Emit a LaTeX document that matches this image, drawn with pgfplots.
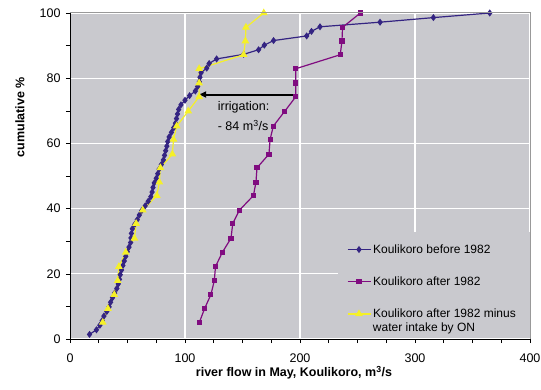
\documentclass[border=0pt]{standalone}
\usepackage{fontspec}
\setmainfont{Liberation Sans}
\usepackage{pgfplots}
\pgfplotsset{compat=1.18}
\usetikzlibrary{arrows.meta}

\definecolor{plotbg}{RGB}{201,201,206}
\definecolor{before}{RGB}{52,36,130}
\definecolor{after}{RGB}{128,12,128}
\definecolor{minus}{RGB}{245,240,40}

\begin{document}
\begin{tikzpicture}
\useasboundingbox (-70pt,-50pt) rectangle (471pt,339pt);
\begin{axis}[
    at={(0pt,0pt)}, anchor=south west,
    scale only axis,
    width=460pt, height=326pt,
    xmin=0, xmax=400, ymin=0, ymax=100,
    xtick={0,100,...,400}, ytick={0,20,...,100},
    minor x tick num=3, minor y tick num=1,
    tick align=outside,
    major tick length=4pt, minor tick length=4pt,
    axis lines*=left,
    axis line style={black, line width=0.8pt, -},
    every tick/.style={black, line width=0.6pt},
    axis background/.style={fill=plotbg},
    xmajorgrids, ymajorgrids,
    major grid style={white, line width=1.2pt},
    tick label style={font=\fontsize{12.5}{14}\selectfont},
    /pgf/number format/assume math mode=true,
    xticklabel style={yshift=-7pt},
    yticklabel style={xshift=-2pt},
    xlabel={\bfseries river flow in May, Koulikoro, m\textsuperscript{3}/s},
    ylabel={\bfseries cumulative \%},
    label style={font=\fontsize{12.5}{14}\selectfont},
    xlabel style={at={(axis description cs:0.487,-0.104)}, anchor=center},
    ylabel style={at={(axis description cs:-0.109,0.68)}, anchor=center},
    legend style={at={(axis cs:238,30.3)}, anchor=north west, draw=none, fill=none,
        font=\fontsize{12}{16}\selectfont, row sep=18pt,
        cells={align=left, anchor=west}},
    legend cell align=left,
    legend image code/.code={
        \draw[mark repeat=2, mark phase=2] plot coordinates {(0pt,0pt) (11.5pt,0pt) (23pt,0pt)};
    },
    after end axis/.code={
        \draw[gray!80, line width=1pt] (rel axis cs:0,1) -- (rel axis cs:1,1) -- (rel axis cs:1,0);
    },
]
% legend area hides the grid lines behind it
\fill[plotbg] (axis cs:233,0.3) rectangle (axis cs:399.7,32.8);

% Koulikoro before 1982
\addplot[before, line width=1.2pt, mark=diamond*, mark size=2.6pt] coordinates {
(17,1.41) (23,2.82) (26,4.23) (28,5.63) (29.5,7.04) (32,8.45) (34,9.86) (35.3,11.27)
(37,12.68) (38.8,14.08) (40.7,15.49) (42,16.9) (43,18.31) (43.7,19.72) (44.8,21.13)
(46,22.54) (47.2,23.94) (48.5,25.35) (49.8,26.76) (51.3,28.17) (52.7,29.58) (53,30.99)
(53.4,32.39) (54.2,33.8) (56.4,35.21) (58.5,36.62) (60.3,38.03) (62.5,39.44) (65.4,40.85)
(68,42.25) (70.3,43.66) (71.4,45.07) (72.2,46.48) (73.3,47.89) (75,49.3) (76.3,50.7)
(77.5,52.11) (79.4,53.52) (81.2,54.93) (82.2,56.34) (83.2,57.75) (84.2,59.15) (85,60.56)
(86.2,61.97) (88.2,63.38) (90.2,64.79) (91.7,66.2) (92.6,67.61) (93.5,69.01) (94.5,70.42)
(96.5,71.83) (100,73.24) (104,74.65) (109,76.06) (111,77.46) (112.5,78.87) (113,80.28)
(114,81.69) (118.9,83.1) (121,84.51) (127.5,85.92) (151,87.32) (164,88.73) (169,90.14)
(177,91.55) (205.8,92.96) (210,94.37) (217.4,95.77) (269.6,97.18) (316,98.59) (365,100)
};
\addlegendentry{Koulikoro before 1982}
% Koulikoro after 1982
\addplot[after, line width=1.2pt, mark=square*, mark size=2pt] coordinates {
(112.5,5.1) (117,9.3) (122.5,13.6) (125.5,17.9) (126.5,22.2) (132.5,26.6) (140,30.9)
(141.5,35.4) (147.3,39.5) (159.5,44) (161.7,48.1) (162.6,52.5) (173,56.7) (174,61.2)
(176.8,65.3) (186.8,69.9) (196.3,74.3) (196.3,78.5) (196.3,82.9) (235,87.2) (236.5,91.4)
(237,95.6) (252.5,100)
};
\addlegendentry{Koulikoro after 1982}
% after 1982 minus water intake
\addplot[minus, line width=1.2pt, mark=triangle*, mark size=3.3pt] coordinates {
(28.5,5.1) (33,9.3) (38.5,13.6) (41.5,17.9) (42.5,22.2) (48.5,26.6) (56,30.9)
(57.5,35.4) (63.3,39.5) (75.5,44) (77.7,48.1) (78.6,52.5) (89,56.7) (90,61.2)
(92.8,65.3) (102.8,69.9) (112.3,74.3) (112.3,78.5) (112.3,82.9) (151,87.2) (152.5,91.4)
(153,95.6) (168.5,100)
};
\addlegendentry{Koulikoro after 1982 minus}

% second line of the third legend entry
\node[anchor=west, inner sep=0pt, font=\fontsize{12}{16}\selectfont] at (axis cs:263.3,3.3)
    {water intake by ON};

\draw[black, line width=2pt, -{Latex[length=8pt,width=7pt]}] (axis cs:196.3,75) -- (axis cs:111.5,75);
\node[anchor=west, align=left, font=\fontsize{12.5}{20}\selectfont] at (axis cs:125.5,68.3)
    {irrigation:\\- 84 m\textsuperscript{3}/s};
\end{axis}
\end{tikzpicture}
\end{document}
